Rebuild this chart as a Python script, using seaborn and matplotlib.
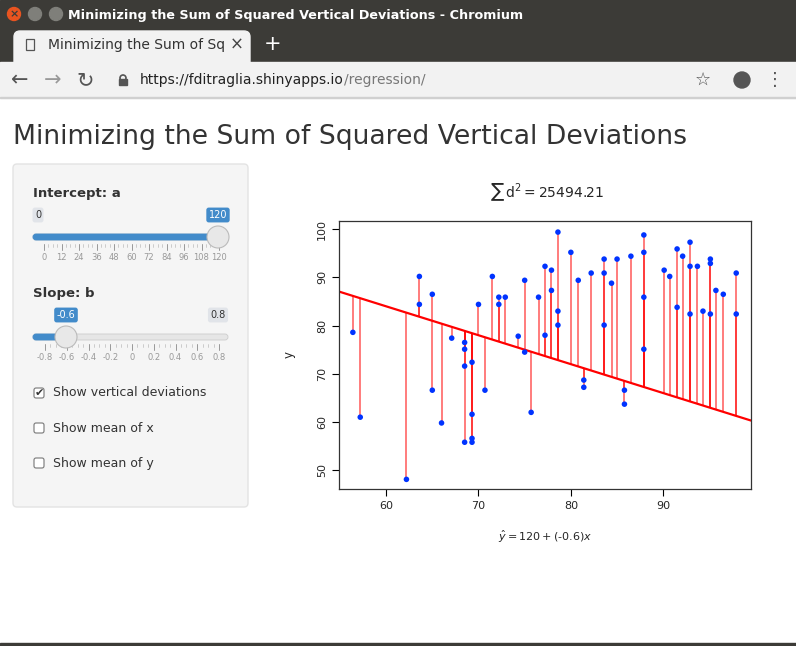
import matplotlib
matplotlib.use("Agg")
import matplotlib.pyplot as plt
import seaborn as sns
import numpy as np
import pandas as pd
from matplotlib.patches import Rectangle, FancyBboxPatch, Circle

sns.set_theme(style="white")
plt.rcParams['font.family'] = ['DejaVu Sans']

x = [56.4, 57.2, 62.2, 63.6, 63.6, 65.0, 65.0, 66.0, 67.1, 68.5, 68.5, 68.5, 68.5,
     69.3, 69.3, 69.3, 69.3, 70.0, 70.7, 71.5, 72.2, 72.2, 72.9, 74.3, 75.0, 75.0,
     75.7, 76.5, 77.2, 77.2, 77.9, 77.9, 78.6, 78.6, 78.6, 80.0, 80.8, 81.4, 81.4,
     82.2, 83.6, 83.6, 83.6, 84.4, 85.0, 85.8, 85.8, 86.5, 87.9, 87.9, 87.9, 87.9,
     90.1, 90.7, 91.5, 91.5, 92.1, 92.9, 92.9, 92.9, 93.7, 94.3, 95.1, 95.1, 95.1,
     95.7, 96.5, 97.9, 97.9]
y = [78.6, 61.0, 48.1, 90.2, 84.4, 86.5, 66.6, 59.8, 77.4, 76.5, 75.1, 71.6, 55.8,
     72.4, 61.6, 56.6, 55.8, 84.4, 66.6, 90.2, 85.9, 84.4, 85.9, 77.8, 89.4, 74.5,
     62.0, 85.9, 92.3, 78.0, 91.5, 87.3, 99.4, 83.0, 80.1, 95.2, 89.4, 68.7, 67.2,
     90.9, 93.8, 90.9, 80.1, 88.8, 93.8, 66.6, 63.7, 94.4, 98.8, 95.2, 85.9, 75.1,
     91.5, 90.2, 95.9, 83.8, 94.4, 97.3, 92.3, 82.4, 92.3, 83.0, 93.8, 92.9, 82.4,
     87.3, 86.5, 90.9, 82.4]
a, b = 120, -0.6
ssd_label = "25494.21"
x_ticks = [60, 70, 80, 90]
y_ticks = [50, 60, 70, 80, 90, 100]
int_labels = ["0", "12", "24", "36", "48", "60", "72", "84", "96", "108", "120"]
slope_labels = ["-0.8", "-0.6", "-0.4", "-0.2", "0", "0.2", "0.4", "0.6", "0.8"]
checks = ["Show vertical deviations", "Show mean of x", "Show mean of y"]

df = pd.DataFrame({"x": x, "y": y})
df["fit"] = a + b * df["x"]

W, H = 796, 646
fig = plt.figure(figsize=(W / 100, H / 100), dpi=100)
bg = fig.add_axes([0, 0, 1, 1])
bg.set_xlim(0, W); bg.set_ylim(H, 0); bg.axis("off")

def rect(x0, y0, w, h, **kw):
    bg.add_patch(Rectangle((x0, y0), w, h, **kw))

# browser chrome
rect(0, 0, W, 62, color="#3c3b37")
bg.text(296, 15, "Minimizing the Sum of Squared Vertical Deviations - Chromium", color="white",
        fontsize=9.2, weight="bold", ha="center", va="center")
bg.add_patch(Circle((14, 14), 6.5, color="#e95420"))
bg.text(14, 14, "×", color="#3c3b37", fontsize=8, ha="center", va="center", weight="bold")
for cx in (35, 56):
    bg.add_patch(Circle((cx, 14), 6.5, color="#7f7f7a"))
bg.add_patch(FancyBboxPatch((14, 31), 236, 40, boxstyle="round,pad=0,rounding_size=6", color="#f2f2f2"))
bg.text(48, 45, "Minimizing the Sum of Sq", fontsize=10, color="#333", va="center")
bg.add_patch(Rectangle((26, 39), 8, 11, facecolor="none", edgecolor="#555", lw=0.9))
bg.text(237, 45, "×", fontsize=12, color="#444", va="center", ha="center")
bg.text(273, 44, "+", fontsize=15, color="white", va="center", ha="center")
rect(0, 62, W, 36, color="#f2f2f2")
bg.text(20, 80, "←", fontsize=15, color="#555", va="center", ha="center")
bg.text(53, 80, "→", fontsize=15, color="#999", va="center", ha="center")
bg.text(85, 80, "↻", fontsize=15, color="#555", va="center", ha="center")
bg.add_patch(Rectangle((119, 79), 8, 6, color="#555"))
bg.add_patch(Circle((123, 78), 3, facecolor="none", edgecolor="#555", lw=1.2))
t1 = bg.text(140, 80, "https://fditraglia.shinyapps.io", fontsize=10, color="#222", va="center")
fig.canvas.draw()
ext = t1.get_window_extent()
x_end = ext.x1  # pixel coords; bg maps 1:1 horizontally
bg.text(x_end, 80, "/regression/", fontsize=10, color="#777", va="center")
bg.text(703, 80, "☆", fontsize=13, color="#555", va="center", ha="center")
bg.add_patch(Circle((742, 80), 8, color="#555"))
bg.text(775, 80, "⋮", fontsize=13, color="#555", va="center", ha="center")
rect(0, 97, W, 1, color="#d0d0d0")
rect(0, 643, W, 3, color="#3c3b37")

# heading
bg.text(13, 137, "Minimizing the Sum of Squared Vertical Deviations", fontsize=19.2, color="#333", va="center")

# sidebar
bg.add_patch(FancyBboxPatch((13, 164), 235, 343, boxstyle="round,pad=0,rounding_size=4",
                            facecolor="#f5f5f5", edgecolor="#e3e3e3"))

def slider(ylab, label, lo, hi, val_txt, val_px, ticklabels, y0):
    bg.text(33, ylab, label, fontsize=9.5, weight="bold", color="#333", va="center")
    if lo:
        bg.text(38, y0 - 22, lo, fontsize=7, color="#333", ha="center", va="center",
                bbox=dict(boxstyle="round,pad=0.25", fc="#e1e4e9", ec="none"))
    if hi:
        bg.text(218, y0 - 22, hi, fontsize=7, color="#333", ha="center", va="center",
                bbox=dict(boxstyle="round,pad=0.25", fc="#e1e4e9", ec="none"))
    bg.text(val_px, y0 - 22, val_txt, fontsize=7, color="white", ha="center", va="center",
            bbox=dict(boxstyle="round,pad=0.25", fc="#428bca", ec="none"))
    bg.add_patch(FancyBboxPatch((33, y0 - 3), 195, 6, boxstyle="round,pad=0,rounding_size=3",
                                facecolor="#e6e6e6", edgecolor="#cccccc", lw=0.6))
    bg.add_patch(FancyBboxPatch((33, y0 - 3), val_px - 33, 6, boxstyle="round,pad=0,rounding_size=3",
                                facecolor="#428bca", edgecolor="#428bca", lw=0.6))
    n = len(ticklabels)
    xs = np.linspace(44 if n == 11 else 45, 219, n)
    for i, t in enumerate(ticklabels):
        bg.plot([xs[i], xs[i]], [y0 + 7, y0 + 13], color="#999", lw=0.7)
        bg.text(xs[i], y0 + 21, t, fontsize=6.0, color="#999", ha="center", va="center")
        if i < n - 1:
            for k in range(1, 4):
                xm = xs[i] + (xs[i + 1] - xs[i]) * k / 4
                bg.plot([xm, xm], [y0 + 7, y0 + 10], color="#bbb", lw=0.5)
    bg.add_patch(Circle((val_px, y0), 11, facecolor="#e8e8e8", edgecolor="#bbbbbb", lw=0.8, zorder=5))

slider(193, "Intercept: a", "0", None, "120", 218, int_labels, 237)
slider(293, "Slope: b", None, "0.8", "-0.6", 66, slope_labels, 337)

for i, c in enumerate(checks):
    yy = 393 + 35 * i
    bg.add_patch(FancyBboxPatch((34, yy - 5), 10, 10, boxstyle="round,pad=0,rounding_size=2",
                                facecolor="white", edgecolor="#777", lw=0.8))
    if i == 0:
        bg.text(39, yy, "✔", fontsize=8, color="#333", ha="center", va="center")
    bg.text(53, yy, c, fontsize=9, color="#333", va="center")

# plot
ax = fig.add_axes([339 / W, (H - 489) / H, 412 / W, 268 / H])
ax.set_facecolor("white")
ax.vlines(df["x"], df["fit"], df["y"], color="red", alpha=0.65, lw=1.1)
xs_line = np.array([54.9, 99.5])
ax.plot(xs_line, a + b * xs_line, color="red", lw=1.6)
sns.scatterplot(data=df, x="x", y="y", ax=ax, color="#0033ff", s=16, edgecolor="none", zorder=3)
ax.set_xlim(54.9, 99.5)
ax.set_ylim(46.1, 101.7)
ax.set_xticks(x_ticks)
ax.set_yticks(y_ticks)
ax.set_yticklabels([str(v) for v in y_ticks], rotation=90, va="center")
ax.tick_params(axis="both", which="both", direction="out", length=5, width=0.8,
               color="black", labelsize=8, left=True, bottom=True)
for s in ax.spines.values():
    s.set_color("#333"); s.set_linewidth(0.9)
ax.set_xlabel(""); ax.set_ylabel("")
bg.text(547, 192, r"$\sum\,\mathrm{d}^2 = %s$" % ssd_label, fontsize=10, ha="center", va="center")
bg.text(545, 537, r"$\hat{y} = 120 + (\text{-}0.6)x$", fontsize=8, ha="center", va="center")
bg.text(289, 355, "y", fontsize=8.5, ha="center", va="center", rotation=90)

fig.savefig("out.png", dpi=100)
